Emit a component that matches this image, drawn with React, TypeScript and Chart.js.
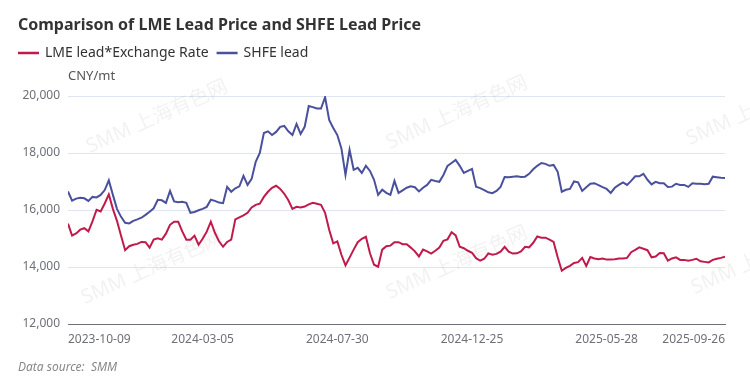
import React, { useEffect, useRef } from "react";
import { Chart, registerables } from "chart.js";

Chart.register(...registerables);

const TITLE = "Comparison of LME Lead Price and SHFE Lead Price";
const SERIES_NAMES = ["LME lead*Exchange Rate", "SHFE lead"];
const UNIT = "CNY/mt";
const SOURCE = "Data source:  SMM";
const WATERMARK = "SMM 上海有色网";

// sample index (every 3rd trading day) of each x-axis label
const TICK_POSITIONS = [0, 33, 66, 99, 132, 161];
const TICK_LABELS = ["2023-10-09", "2024-03-05", "2024-07-30", "2024-12-25", "2025-05-28", "2025-09-26"];

const Y_MIN = 12000;
const Y_MAX = 20000;
const Y_STEP = 2000;

// LME lead * exchange rate (CNY/mt)
const LME = [
  15520, 15100, 15180, 15310, 15360, 15250, 15600, 16010, 15950, 16230,
  16550, 16040, 15620, 15100, 14590, 14730, 14780, 14810, 14880, 14870,
  14680, 14960, 15010, 14960, 15170, 15480, 15590, 15590, 15250, 14960,
  14960, 15100, 14780, 14990, 15240, 15590, 15200, 14900, 14710, 14880,
  14960, 15670, 15740, 15810, 15900, 16090, 16180, 16220, 16460, 16640,
  16780, 16850, 16740, 16570, 16340, 16040, 16110, 16090, 16120, 16200,
  16250, 16220, 16180, 15900, 15310, 14830, 14900, 14430, 14060, 14330,
  14610, 14870, 14990, 15060, 14480, 14080, 14010, 14610, 14730, 14750,
  14870, 14870, 14800, 14800, 14680, 14550, 14370, 14610, 14550, 14470,
  14570, 14680, 14920, 14970, 15220, 15110, 14710, 14660, 14570, 14500,
  14310, 14220, 14290, 14480, 14430, 14460, 14540, 14710, 14540, 14470,
  14480, 14550, 14710, 14690, 14850, 15070, 15030, 15030, 14960, 14880,
  14340, 13870, 13970, 14040, 14140, 14170, 14320, 14040, 14350, 14300,
  14270, 14300, 14260, 14260, 14270, 14300, 14300, 14320, 14520, 14600,
  14690, 14640, 14590, 14340, 14370, 14490, 14480, 14220, 14300, 14340,
  14250, 14250, 14220, 14250, 14290, 14200, 14180, 14160, 14250, 14290,
  14320, 14360,
];

// SHFE lead (CNY/mt)
const SHFE = [
  16650, 16330, 16400, 16430, 16410, 16320, 16460, 16440, 16530, 16700,
  17040, 16530, 16040, 15760, 15550, 15530, 15620, 15670, 15730, 15830,
  15940, 16060, 16360, 16340, 16250, 16670, 16300, 16270, 16290, 16250,
  15900, 15930, 15990, 16040, 16110, 16360, 16320, 16260, 16240, 16810,
  16640, 16760, 16830, 17200, 16880, 17090, 17690, 18000, 18700, 18760,
  18630, 18740, 18920, 18950, 18760, 18630, 19020, 18670, 18920, 19650,
  19610, 19560, 19560, 19960, 19160, 18880, 18630, 18160, 17230, 18110,
  17410, 17480, 17300, 17550, 17370, 17060, 16530, 16710, 16600, 16530,
  17020, 16600, 16690, 16780, 16830, 16800, 16650, 16780, 16880, 17060,
  17020, 16990, 17230, 17550, 17650, 17760, 17550, 17300, 17370, 17440,
  16820, 16770, 16700, 16620, 16590, 16670, 16810, 17160, 17150, 17170,
  17180, 17160, 17170, 17270, 17430, 17550, 17650, 17620, 17550, 17580,
  17340, 16640, 16710, 16740, 17000, 16970, 16670, 16800, 16920, 16940,
  16870, 16800, 16740, 16600, 16780, 16880, 16970, 16880, 17020, 17180,
  17180, 17270, 17060, 16900, 16990, 16940, 16940, 16810, 16820, 16920,
  16880, 16880, 16810, 16940, 16920, 16920, 16900, 16920, 17170, 17150,
  17130, 17120,
];

const COLORS = ["#c01a4b", "#4a509c"];
const FONT = '"Noto Sans", "Noto Sans CJK SC", sans-serif';

const decorPlugin = {
  id: "decor",
  beforeDatasetsDraw(chart: any) {
    const ctx = chart.ctx as CanvasRenderingContext2D;
    const spots = [
      [157, 117], [457, 113], [757, 109],
      [152, 268], [457, 263], [762, 258],
    ];
    ctx.save();
    ctx.font = `20px ${FONT}`;
    ctx.fillStyle = "rgba(0,0,0,0.055)";
    ctx.textAlign = "center";
    ctx.textBaseline = "middle";
    for (const [cx, cy] of spots) {
      ctx.save();
      ctx.translate(cx, cy);
      ctx.rotate((-24 * Math.PI) / 180);
      ctx.fillText(WATERMARK, 0, 0);
      ctx.restore();
    }
    ctx.restore();
  },
  afterDraw(chart: any) {
    const ctx = chart.ctx as CanvasRenderingContext2D;
    ctx.save();
    ctx.textBaseline = "middle";
    ctx.textAlign = "left";
    // title
    ctx.font = `bold 16px ${FONT}`;
    ctx.fillStyle = "#333";
    ctx.fillText(TITLE, 18, 25);
    // legend
    ctx.font = `14px ${FONT}`;
    let x = 18;
    SERIES_NAMES.forEach((name, i) => {
      ctx.strokeStyle = COLORS[i];
      ctx.lineWidth = 2.5;
      ctx.beginPath();
      ctx.moveTo(x, 53);
      ctx.lineTo(x + 21, 53);
      ctx.stroke();
      ctx.fillStyle = "#333";
      ctx.fillText(name, x + 27, 53);
      x += 27 + ctx.measureText(name).width + 8;
    });
    // unit
    ctx.font = `13px ${FONT}`;
    ctx.fillStyle = "#555";
    ctx.fillText(UNIT, 68, 76);
    // source
    ctx.font = `italic 12px ${FONT}`;
    ctx.fillStyle = "#888";
    ctx.fillText(SOURCE, 18, 368);
    ctx.restore();
  },
};

export default function App() {
  const ref = useRef<HTMLCanvasElement | null>(null);

  useEffect(() => {
    if (!ref.current) return;
    const chart = new Chart(ref.current, {
      type: "line",
      data: {
        datasets: [
          {
            label: SERIES_NAMES[0],
            data: LME.map((v, i) => ({ x: i, y: v })),
            borderColor: COLORS[0],
            backgroundColor: COLORS[0],
          },
          {
            label: SERIES_NAMES[1],
            data: SHFE.map((v, i) => ({ x: i, y: v })),
            borderColor: COLORS[1],
            backgroundColor: COLORS[1],
          },
        ],
      },
      options: {
        animation: false,
        responsive: false,
        maintainAspectRatio: false,
        layout: { padding: { top: 96, left: 0, right: 25, bottom: 40 } },
        plugins: {
          legend: { display: false },
          title: { display: false },
          tooltip: { enabled: false },
        },
        elements: {
          point: { radius: 0 },
          line: { tension: 0, borderWidth: 2 },
        },
        scales: {
          x: {
            type: "linear",
            min: 0,
            max: LME.length - 1,
            grid: { display: false, drawTicks: false },
            border: { display: true, color: "#6e7079", width: 1 },
            afterBuildTicks: (s: any) => {
              s.ticks = TICK_POSITIONS.map((v) => ({ value: v }));
            },
            afterFit: (s: any) => {
              s.height = 25;
            },
            ticks: {
              autoSkip: false,
              maxRotation: 0,
              minRotation: 0,
              align: "inner",
              padding: 8,
              color: "#6e7079",
              font: { size: 12, family: FONT },
              callback: (v: any) => {
                const k = TICK_POSITIONS.indexOf(Number(v));
                return k >= 0 ? TICK_LABELS[k] : "";
              },
            },
          },
          y: {
            min: Y_MIN,
            max: Y_MAX,
            grid: { color: "#e0e6f1", drawTicks: false },
            border: { display: false },
            afterFit: (s: any) => {
              s.width = 68;
            },
            ticks: {
              stepSize: Y_STEP,
              padding: 8,
              color: "#6e7079",
              font: { size: 12, family: FONT },
              callback: (v: any) => Number(v).toLocaleString("en-US"),
            },
          },
        },
      },
      plugins: [decorPlugin],
    } as any);
    return () => chart.destroy();
  }, []);

  return (
    <div style={{ position: "absolute", left: 0, top: 0, width: 750, height: 389, background: "#fff" }}>
      <canvas ref={ref} width={750} height={389} />
    </div>
  );
}
